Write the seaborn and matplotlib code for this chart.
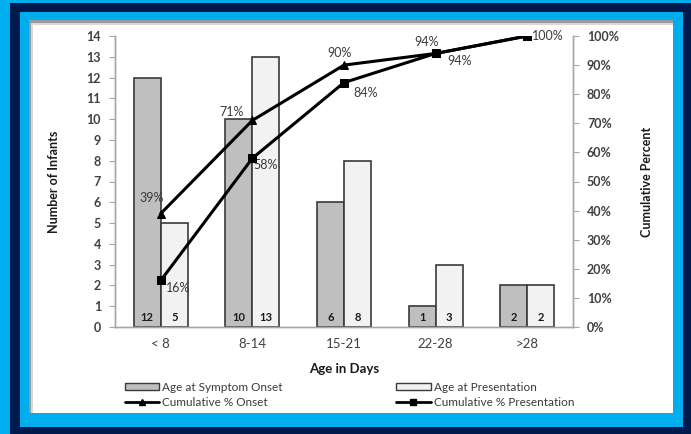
import matplotlib
matplotlib.use("Agg")
import matplotlib.pyplot as plt
import matplotlib.patches as mpatches
from matplotlib.lines import Line2D
from matplotlib.ticker import FuncFormatter
import pandas as pd
import seaborn as sns

# data
ages = ["< 8", "8-14", "15-21", "22-28", ">28"]
onset_counts = [12, 10, 6, 1, 2]
presentation_counts = [5, 13, 8, 3, 2]
cum_onset = [39, 71, 90, 94, 100]
cum_presentation = [16, 58, 84, 94, 100]
onset_labels = ["39%", "71%", "90%", "94%", ""]
presentation_labels = ["16%", "58%", "84%", "94%", "100%"]

# label offsets in pixels (dx, dy up)
onset_offsets = [(-9, 16), (-21, 8), (-4, 12), (-9, 11), (0, 0)]
pres_offsets = [(17, -8), (13, -7), (22, -10), (24, -8), (21, 0)]

sns.set_style("white")
plt.rcParams["font.family"] = ["Lato", "DejaVu Sans"]

NAVY = "#001a4e"
BLUE = "#00aeef"
TXT = "#404040"

W, H = 691, 434
fig = plt.figure(figsize=(W / 100, H / 100), dpi=100, facecolor=BLUE)


def frac_rect(x0, y0, x1, y1, color, z):
    # pixel box (top-left origin) -> figure fraction rectangle
    fig.patches.append(mpatches.Rectangle(
        (x0 / W, 1 - y1 / H), (x1 - x0) / W, (y1 - y0) / H,
        transform=fig.transFigure, facecolor=color, edgecolor="none", zorder=z))


frac_rect(10, 3, W + 5, H + 5, NAVY, -10)
frac_rect(20, 12, 683, 427, BLUE, -9)
frac_rect(29, 20, 673, 413, "#9a9a9a", -8)
frac_rect(31, 23, 673, 413, "#d8d8d8", -7)
frac_rect(33, 25, 673, 413, "white", -6)

ax = fig.add_axes([115 / W, 1 - 327 / H, (573 - 115) / W, (327 - 36) / H])
ax.set_facecolor("none")

df = pd.DataFrame({
    "age": ages * 2,
    "count": onset_counts + presentation_counts,
    "series": ["Age at Symptom Onset"] * len(ages) + ["Age at Presentation"] * len(ages),
})
sns.barplot(data=df, x="age", y="count", hue="series", ax=ax,
            palette=["#bfbfbf", "#f2f2f2"], edgecolor="#3a3a3a", linewidth=1.2,
            width=0.59, gap=0, legend=False, zorder=2)

for cont in ax.containers:
    for rect in cont:
        h = rect.get_height()
        ax.text(rect.get_x() + rect.get_width() / 2, 0.45, f"{int(h)}",
                ha="center", va="center", fontsize=8, fontweight="bold",
                color="#1a1a1a", zorder=5)

ax.set_ylim(0, 14)
ax.set_xlim(-0.5, 4.5)
ax.set_yticks(range(0, 15))
ax.set_xlabel("Age in Days", fontsize=9.5, fontweight="bold", color="#1a1a1a", labelpad=9)
ax.set_ylabel("Number of Infants", fontsize=9, fontweight="bold", color="#1a1a1a", labelpad=19)

ax2 = ax.twinx()
ax2.set_facecolor("none")
sns.lineplot(x=ages, y=cum_onset, ax=ax2, sort=False, color="black", linewidth=2.2,
             marker="^", markersize=6, markeredgecolor="black", zorder=4)
sns.lineplot(x=ages, y=cum_presentation, ax=ax2, sort=False, color="black", linewidth=2.2,
             marker="s", markersize=5.5, markeredgecolor="black", zorder=4)
ax2.set_ylim(0, 100)
ax2.set_yticks(range(0, 101, 10))
ax2.yaxis.set_major_formatter(FuncFormatter(lambda v, p: f"{int(v)}%"))
ax2.set_ylabel("Cumulative Percent", fontsize=9, fontweight="bold", color="#1a1a1a", labelpad=16)

pt = 72 / 100
for i, (lab, v) in enumerate(zip(onset_labels, cum_onset)):
    if lab:
        dx, dy = onset_offsets[i]
        ax2.annotate(lab, (i, v), xytext=(dx * pt, dy * pt), textcoords="offset points",
                     ha="center", va="center", fontsize=9, color="#3a3a3a")
for i, (lab, v) in enumerate(zip(presentation_labels, cum_presentation)):
    dx, dy = pres_offsets[i]
    ax2.annotate(lab, (i, v), xytext=(dx * pt, dy * pt), textcoords="offset points",
                 ha="center", va="center", fontsize=9, color="#3a3a3a")

for a in (ax, ax2):
    a.spines["top"].set_visible(False)
    for s in ("left", "right", "bottom"):
        a.spines[s].set_color("#a6a6a6")
        a.spines[s].set_linewidth(1)
    a.tick_params(axis="y", length=4, color="#a6a6a6", labelsize=9, labelcolor=TXT, pad=6)
ax.tick_params(axis="x", length=0, labelsize=9.5, labelcolor=TXT, pad=8)
for t in ax.get_yticklabels() + ax2.get_yticklabels():
    t.set_fontweight("bold")

handles = [
    mpatches.Patch(facecolor="#bfbfbf", edgecolor="#3a3a3a", label="Age at Symptom Onset"),
    Line2D([], [], color="black", lw=2, marker="^", markersize=5, label="Cumulative % Onset"),
    mpatches.Patch(facecolor="#f2f2f2", edgecolor="#3a3a3a", label="Age at Presentation"),
    Line2D([], [], color="black", lw=2, marker="s", markersize=4.5, label="Cumulative % Presentation"),
]
fig.legend(handles=handles, ncol=2, loc="upper left", bbox_to_anchor=(120 / W, 1 - 377 / H),
           frameon=False, fontsize=8.5, handlelength=2.9, handleheight=0.6, handletextpad=0.3,
           columnspacing=9.6, labelspacing=0.4, labelcolor="#3a3a3a", borderaxespad=0)

fig.savefig("out.png", dpi=100, facecolor=BLUE)
